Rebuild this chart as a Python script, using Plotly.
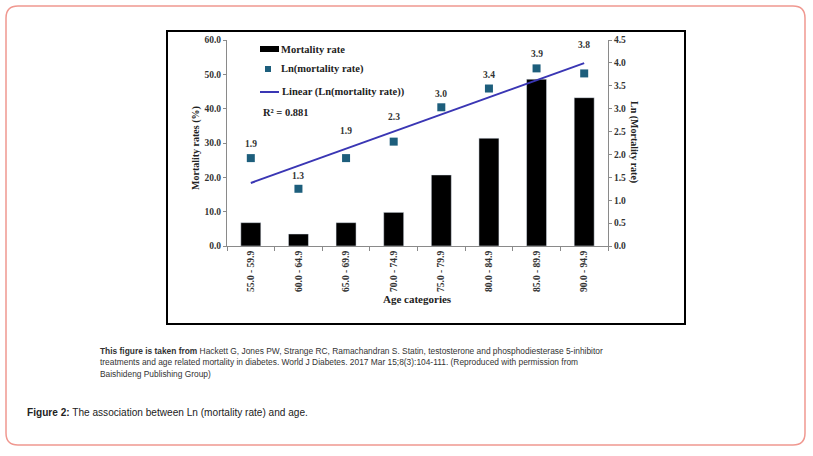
import numpy as np
import plotly.graph_objects as go

# Daten
age_categories = ["55.0 - 59.9", "60.0 - 64.9", "65.0 - 69.9", "70.0 - 74.9",
                  "75.0 - 79.9", "80.0 - 84.9", "85.0 - 89.9", "90.0 - 94.9"]
mortality_rate = [6.8, 3.5, 6.8, 9.8, 20.7, 31.4, 48.6, 43.2]
ln_mortality = [1.92, 1.25, 1.92, 2.28, 3.03, 3.44, 3.88, 3.77]
ln_labels = ["1.9", "1.3", "1.9", "2.3", "3.0", "3.4", "3.9", "3.8"]
r_squared_text = "R² = 0.881"

left_ticks = [0, 10, 20, 30, 40, 50, 60]
right_ticks = [0, 0.5, 1.0, 1.5, 2.0, 2.5, 3.0, 3.5, 4.0, 4.5]

# Abstand der Beschriftung zum Punkt (px), manche sind ueber die Trendlinie gerueckt
label_shift = [14, 13, 27, 25, 13, 14, 14, 28]

# lineare Trendlinie wie in Excel
slope, intercept = np.polyfit(np.arange(len(ln_mortality)), ln_mortality, 1)
trend_y = [intercept, intercept + slope * (len(ln_mortality) - 1)]

W, H = 813, 456
L, R, T, B = 227, 205, 40, 210
PW, PH = W - L - R, H - T - B


def px(x):
    return (x - L) / PW


def py(y):
    return (H - B - y) / PH


SERIF = "Liberation Serif"
SANS = "Liberation Sans, Arial"
TEAL = "#1d5e7c"
LINE = "#3a36b4"
AXIS = "#8a8a8a"

fig = go.Figure()

fig.add_trace(go.Bar(x=age_categories, y=mortality_rate, marker_color="black",
                     width=0.42, name="Mortality rate"))
fig.add_trace(go.Scatter(x=age_categories, y=ln_mortality, yaxis="y2", mode="markers",
                         marker=dict(symbol="square", size=8, color=TEAL),
                         name="Ln(mortality rate)"))
fig.add_trace(go.Scatter(x=[age_categories[0], age_categories[-1]], y=trend_y, yaxis="y2",
                         mode="lines", line=dict(color=LINE, width=2),
                         name="Linear (Ln(mortality rate))"))

# Werte ueber den Punkten
for cat, val, lab, sh in zip(age_categories, ln_mortality, ln_labels, label_shift):
    fig.add_annotation(x=cat, y=val, yref="y2", text=lab, showarrow=False, yshift=sh,
                       font=dict(family=SERIF, size=9.5, color="#333", weight="bold"))

tick_font = dict(family=SERIF, size=9.5, color="#333", weight="bold")

fig.update_layout(
    width=W, height=H, autosize=False,
    margin=dict(l=L, r=R, t=T, b=B),
    paper_bgcolor="white", plot_bgcolor="white",
    showlegend=False,
    xaxis=dict(type="category", range=[-0.5, 7.5], showline=True, linecolor=AXIS,
               ticks="outside", tickson="boundaries", ticklen=4, tickcolor=AXIS,
               tickangle=-90, tickfont=tick_font, showgrid=False),
    yaxis=dict(range=[0, 60], tickvals=left_ticks, tickformat=".1f", showline=True,
               linecolor=AXIS, ticks="outside", ticklen=3, tickcolor=AXIS,
               tickfont=tick_font, showgrid=False, zeroline=False),
    yaxis2=dict(range=[0, 4.5], tickvals=right_ticks, tickformat=".1f", overlaying="y",
                side="right", showline=True, linecolor=AXIS, ticks="outside", ticklen=3,
                tickcolor=AXIS, tickfont=tick_font, showgrid=False, zeroline=False),
)

shapes = []
# inneres Bild mit schwarzem Rahmen
shapes.append(dict(type="rect", xref="paper", yref="paper",
                   x0=px(167), x1=px(685), y0=py(324), y1=py(31),
                   line=dict(color="black", width=2), layer="below"))

# aeusserer roter Rahmen mit runden Ecken
x0, x1, y0, y1, r = 6, 805, 6, 445, 12
pts = [("M", x0 + r, y0), ("L", x1 - r, y0), ("Q", x1, y0, x1, y0 + r),
       ("L", x1, y1 - r), ("Q", x1, y1, x1 - r, y1), ("L", x0 + r, y1),
       ("Q", x0, y1, x0, y1 - r), ("L", x0, y0 + r), ("Q", x0, y0, x0 + r, y0)]
path = ""
for p in pts:
    cmd = p[0]
    coords = p[1:]
    parts = []
    for i in range(0, len(coords), 2):
        parts.append("%.5f,%.5f" % (px(coords[i]), py(coords[i + 1])))
    path += cmd + " ".join(parts) + " "
shapes.append(dict(type="path", xref="paper", yref="paper", path=path + "Z",
                   line=dict(color="#f09890", width=1.5)))

# Legende von Hand
shapes.append(dict(type="rect", xref="paper", yref="paper", x0=px(260), x1=px(279),
                   y0=py(52), y1=py(46), fillcolor="black", line_width=0))
shapes.append(dict(type="rect", xref="paper", yref="paper", x0=px(265), x1=px(271),
                   y0=py(72), y1=py(66), fillcolor=TEAL, line_width=0))
shapes.append(dict(type="line", xref="paper", yref="paper", x0=px(260), x1=px(279),
                   y0=py(92), y1=py(92), line=dict(color=LINE, width=2)))
fig.update_layout(shapes=shapes)

leg_font = dict(family=SERIF, size=10.5, color="#222", weight="bold")
annotations = [
    dict(text="Mortality rate", x=px(279), y=py(49)),
    dict(text="Ln(mortality rate)", x=px(279), y=py(69)),
    dict(text="Linear (Ln(mortality rate))", x=px(280), y=py(92)),
    dict(text=r_squared_text, x=px(261), y=py(113)),
]
for a in annotations:
    fig.add_annotation(xref="paper", yref="paper", xanchor="left", yanchor="middle",
                       showarrow=False, font=leg_font, **a)

# Achsentitel
title_font = dict(family=SERIF, size=10, color="#222", weight="bold")
fig.add_annotation(text="Mortality rates (%)", x=px(188), y=py(148), xref="paper", yref="paper",
                   textangle=-90, showarrow=False, font=title_font)
fig.add_annotation(text="Ln (Mortality rate)", x=px(642), y=py(142), xref="paper", yref="paper",
                   textangle=90, showarrow=False, font=title_font)
fig.add_annotation(text="Age categories", x=0.5, y=py(307), xref="paper", yref="paper",
                   showarrow=False, font=dict(family=SERIF, size=11, color="#222", weight="bold"))

# Bildunterschrift
cap_font = dict(family=SANS, size=8.4, color="#333")
caption = [
    "<b>This figure is taken from</b> Hackett G, Jones PW, Strange RC, Ramachandran S. Statin, "
    "testosterone and phosphodiesterase 5-inhibitor",
    "treatments and age related mortality in diabetes. World J Diabetes. 2017 Mar 15;8(3):104-111. "
    "(Reproduced with permission from",
    "Baishideng Publishing Group)",
]
for i, line in enumerate(caption):
    fig.add_annotation(text=line, x=px(98), y=py(351 + 11.3 * i), xref="paper", yref="paper",
                       xanchor="left", yanchor="middle", showarrow=False, font=cap_font)

fig.add_annotation(text="<b>Figure 2:</b> The association between Ln (mortality rate) and age.",
                   x=px(25), y=py(412), xref="paper", yref="paper", xanchor="left",
                   yanchor="middle", showarrow=False,
                   font=dict(family=SANS, size=10.1, color="#222"))

# Seitenrand weg, damit die Grafik bei 0,0 anfaengt
fig.write_html("out.html", config={"displayModeBar": False},
               post_script="document.body.style.margin='0';")
